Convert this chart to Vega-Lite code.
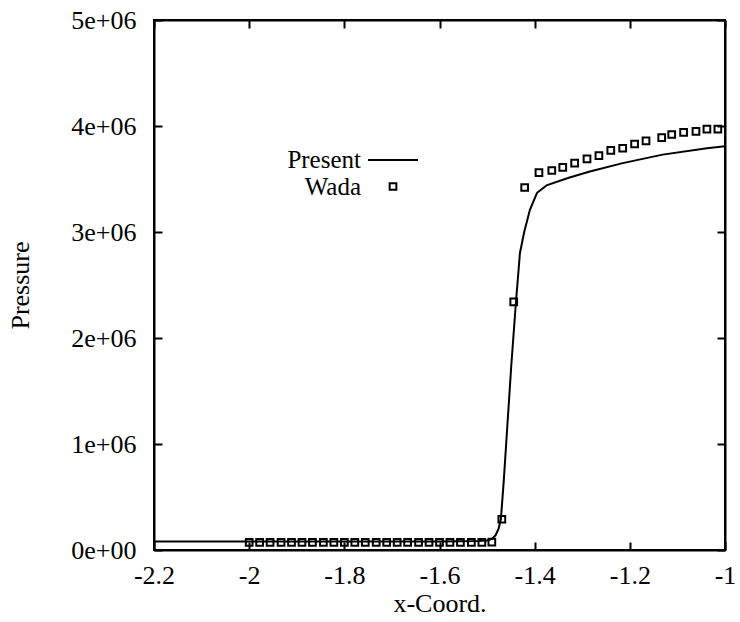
{
  "$schema": "https://vega.github.io/schema/vega-lite/v6.json",
  "width": 571,
  "height": 530,
  "autosize": {"type": "none"},
  "padding": {"left": 154, "top": 20, "right": 15, "bottom": 72},
  "background": "white",
  "config": {
    "view": {"stroke": "black", "strokeWidth": 2},
    "font": "Liberation Serif",
    "axis": {
      "grid": false,
      "domainColor": "black",
      "domainWidth": 2,
      "tickColor": "black",
      "tickWidth": 2,
      "tickSize": -8,
      "labelFlush": false,
      "labelOverlap": false,
      "labelFont": "Liberation Serif",
      "labelFontSize": 26,
      "labelColor": "black",
      "titleFont": "Liberation Serif",
      "titleFontSize": 26,
      "titleFontWeight": "normal",
      "titleColor": "black"
    },
    "legend": {
      "labelFont": "Liberation Serif",
      "labelFontSize": 25,
      "labelColor": "black"
    }
  },
  "datasets": {
    "present": [
      {"x": -2.2, "p": 80000},
      {"x": -1.8, "p": 80000},
      {"x": -1.6, "p": 80000},
      {"x": -1.52, "p": 84000},
      {"x": -1.5, "p": 90000},
      {"x": -1.49, "p": 105000},
      {"x": -1.482, "p": 140000},
      {"x": -1.476, "p": 200000},
      {"x": -1.471, "p": 290000},
      {"x": -1.465, "p": 650000},
      {"x": -1.457, "p": 1200000},
      {"x": -1.449, "p": 1750000},
      {"x": -1.44, "p": 2300000},
      {"x": -1.431, "p": 2800000},
      {"x": -1.422, "p": 3000000},
      {"x": -1.41, "p": 3210000},
      {"x": -1.395, "p": 3370000},
      {"x": -1.375, "p": 3440000},
      {"x": -1.33, "p": 3510000},
      {"x": -1.284, "p": 3570000},
      {"x": -1.215, "p": 3650000},
      {"x": -1.131, "p": 3730000},
      {"x": -1.038, "p": 3790000},
      {"x": -1.0, "p": 3810000}
    ],
    "wada": [
      {"x": -2.0, "p": 72000, "series": "Wada"},
      {"x": -1.978, "p": 72000, "series": "Wada"},
      {"x": -1.956, "p": 72000, "series": "Wada"},
      {"x": -1.933, "p": 72000, "series": "Wada"},
      {"x": -1.911, "p": 72000, "series": "Wada"},
      {"x": -1.889, "p": 72000, "series": "Wada"},
      {"x": -1.867, "p": 72000, "series": "Wada"},
      {"x": -1.844, "p": 72000, "series": "Wada"},
      {"x": -1.822, "p": 72000, "series": "Wada"},
      {"x": -1.8, "p": 72000, "series": "Wada"},
      {"x": -1.778, "p": 72000, "series": "Wada"},
      {"x": -1.756, "p": 72000, "series": "Wada"},
      {"x": -1.733, "p": 72000, "series": "Wada"},
      {"x": -1.711, "p": 72000, "series": "Wada"},
      {"x": -1.689, "p": 72000, "series": "Wada"},
      {"x": -1.667, "p": 72000, "series": "Wada"},
      {"x": -1.644, "p": 72000, "series": "Wada"},
      {"x": -1.622, "p": 72000, "series": "Wada"},
      {"x": -1.6, "p": 72000, "series": "Wada"},
      {"x": -1.578, "p": 72000, "series": "Wada"},
      {"x": -1.556, "p": 72000, "series": "Wada"},
      {"x": -1.533, "p": 72000, "series": "Wada"},
      {"x": -1.511, "p": 72000, "series": "Wada"},
      {"x": -1.49, "p": 75000, "series": "Wada"},
      {"x": -1.469, "p": 290000, "series": "Wada"},
      {"x": -1.444, "p": 2340000, "series": "Wada"},
      {"x": -1.421, "p": 3420000, "series": "Wada"},
      {"x": -1.391, "p": 3560000, "series": "Wada"},
      {"x": -1.364, "p": 3580000, "series": "Wada"},
      {"x": -1.341, "p": 3610000, "series": "Wada"},
      {"x": -1.316, "p": 3650000, "series": "Wada"},
      {"x": -1.29, "p": 3690000, "series": "Wada"},
      {"x": -1.265, "p": 3720000, "series": "Wada"},
      {"x": -1.24, "p": 3770000, "series": "Wada"},
      {"x": -1.215, "p": 3790000, "series": "Wada"},
      {"x": -1.19, "p": 3830000, "series": "Wada"},
      {"x": -1.166, "p": 3860000, "series": "Wada"},
      {"x": -1.133, "p": 3890000, "series": "Wada"},
      {"x": -1.112, "p": 3920000, "series": "Wada"},
      {"x": -1.087, "p": 3940000, "series": "Wada"},
      {"x": -1.061, "p": 3950000, "series": "Wada"},
      {"x": -1.038, "p": 3970000, "series": "Wada"},
      {"x": -1.015, "p": 3970000, "series": "Wada"}
    ]
  },
  "layer": [
    {
      "data": {"name": "present"},
      "mark": {"type": "line", "color": "black", "strokeWidth": 2, "clip": true},
      "encoding": {
        "x": {
          "field": "x", "type": "quantitative",
          "scale": {"domain": [-2.2, -1], "nice": false, "zero": false},
          "axis": {"orient": "top", "labels": false, "title": null, "values": [-2.2, -2, -1.8, -1.6, -1.4, -1.2, -1]}
        },
        "y": {
          "field": "p", "type": "quantitative",
          "scale": {"domain": [0, 5000000], "nice": false},
          "axis": {"orient": "right", "labels": false, "title": null, "values": [0, 1000000, 2000000, 3000000, 4000000, 5000000]}
        }
      }
    },
    {
      "data": {"name": "wada"},
      "mark": {"type": "point", "filled": false, "color": "black", "strokeWidth": 2, "opacity": 1},
      "encoding": {
        "x": {
          "field": "x", "type": "quantitative",
          "axis": {"orient": "bottom", "title": "x-Coord.", "titlePadding": 2, "labelPadding": 20, "values": [-2.2, -2, -1.8, -1.6, -1.4, -1.2, -1], "labelExpr": "'' + datum.value"}
        },
        "y": {
          "field": "p", "type": "quantitative",
          "axis": {"orient": "left", "title": "Pressure", "titlePadding": 37, "labelPadding": 26, "values": [0, 1000000, 2000000, 3000000, 4000000, 5000000], "labelExpr": "(datum.value/1000000) + (datum.value == 0 ? 'e+00' : 'e+06')"}
        },
        "shape": {
          "field": "series", "type": "nominal",
          "scale": {"domain": ["Present", "Wada"], "range": ["stroke", "square"]},
          "legend": {
            "title": null,
            "orient": "none",
            "legendX": 213,
            "legendY": 114,
            "labelAlign": "right",
            "labelOffset": -58,
            "rowPadding": 1,
            "symbolStrokeColor": "black",
            "symbolStrokeWidth": 2,
            "symbolFillColor": "transparent"
          }
        },
        "size": {
          "field": "series", "type": "nominal",
          "scale": {"domain": ["Present", "Wada"], "range": [2500, 45]}
        }
      }
    }
  ],
  "resolve": {"axis": {"x": "independent", "y": "independent"}}
}
